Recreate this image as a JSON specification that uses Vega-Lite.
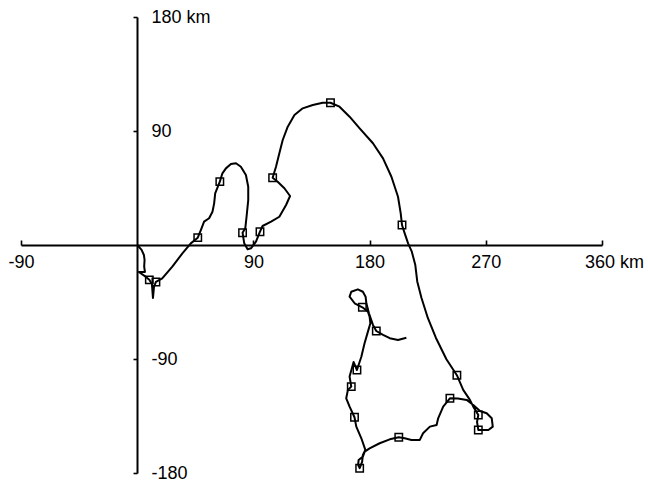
{
  "$schema": "https://vega.github.io/schema/vega-lite/v6.json",
  "width": 581,
  "height": 456,
  "autosize": {"type": "none"},
  "padding": {"left": 21, "top": 17, "right": 46, "bottom": 10},
  "background": "white",
  "config": {"view": {"stroke": null}},
  "data": {"values": [
    {"i":1,"x":0,"y":0,"m":0},{"i":2,"x":3.4,"y":-3.9,"m":0},{"i":3,"x":5.2,"y":-7.9,"m":0},{"i":4,"x":5.7,"y":-11.8,"m":0},
    {"i":5,"x":5.4,"y":-17.1,"m":0},{"i":6,"x":6.0,"y":-21.3,"m":0},{"i":7,"x":1.3,"y":-21.3,"m":0},{"i":8,"x":6.5,"y":-25.0,"m":0},
    {"i":9,"x":9.4,"y":-27.5,"m":1},{"i":10,"x":11.4,"y":-30.8,"m":0},{"i":11,"x":12.2,"y":-41.8,"m":0},{"i":12,"x":13.0,"y":-33.1,"m":0},
    {"i":13,"x":14.5,"y":-29.2,"m":1},{"i":14,"x":19.4,"y":-26.3,"m":0},{"i":15,"x":27.2,"y":-17.1,"m":0},{"i":16,"x":35.0,"y":-6.6,"m":0},
    {"i":17,"x":41.5,"y":1.3,"m":0},{"i":18,"x":46.9,"y":5.8,"m":1},{"i":19,"x":49.3,"y":11.8,"m":0},{"i":20,"x":51.8,"y":18.4,"m":0},
    {"i":21,"x":55.7,"y":21.1,"m":0},{"i":22,"x":58.3,"y":26.3,"m":0},{"i":23,"x":59.6,"y":32.9,"m":0},{"i":24,"x":60.4,"y":40.8,"m":0},
    {"i":25,"x":64.0,"y":50.0,"m":1},{"i":26,"x":66.0,"y":56.6,"m":0},{"i":27,"x":68.7,"y":60.5,"m":0},{"i":28,"x":72.6,"y":63.9,"m":0},
    {"i":29,"x":76.5,"y":64.5,"m":0},{"i":30,"x":80.3,"y":61.8,"m":0},{"i":31,"x":84.2,"y":55.3,"m":0},{"i":32,"x":86.0,"y":46.0,"m":0},
    {"i":33,"x":86.0,"y":35.5,"m":0},{"i":34,"x":84.7,"y":22.3,"m":0},{"i":35,"x":83.7,"y":13.2,"m":0},{"i":36,"x":81.6,"y":9.7,"m":1},
    {"i":37,"x":82.9,"y":1.3,"m":0},{"i":38,"x":85.5,"y":-3.4,"m":0},{"i":39,"x":88.1,"y":-2.6,"m":0},{"i":40,"x":92.0,"y":2.6,"m":0},
    {"i":41,"x":95.1,"y":10.5,"m":1},{"i":42,"x":97.1,"y":15.0,"m":0},{"i":43,"x":103.7,"y":18.4,"m":0},{"i":44,"x":110.1,"y":22.3,"m":0},
    {"i":45,"x":115.3,"y":31.6,"m":0},{"i":46,"x":118.4,"y":38.7,"m":0},{"i":47,"x":114.0,"y":44.8,"m":0},{"i":48,"x":108.8,"y":50.0,"m":0},
    {"i":49,"x":104.9,"y":53.1,"m":1},{"i":50,"x":107.5,"y":61.8,"m":0},{"i":51,"x":110.1,"y":72.4,"m":0},{"i":52,"x":112.7,"y":82.9,"m":0},
    {"i":53,"x":116.6,"y":93.4,"m":0},{"i":54,"x":121.8,"y":102.6,"m":0},{"i":55,"x":128.2,"y":107.9,"m":0},{"i":56,"x":136.0,"y":110.5,"m":0},
    {"i":57,"x":143.7,"y":112.3,"m":0},{"i":58,"x":149.7,"y":112.3,"m":1},{"i":59,"x":156.7,"y":109.2,"m":0},{"i":60,"x":164.5,"y":101.3,"m":0},
    {"i":61,"x":172.3,"y":92.1,"m":0},{"i":62,"x":182.6,"y":80.3,"m":0},{"i":63,"x":190.4,"y":68.4,"m":0},{"i":64,"x":196.9,"y":53.9,"m":0},
    {"i":65,"x":202.0,"y":38.1,"m":0},{"i":66,"x":204.1,"y":25.0,"m":0},{"i":67,"x":205.1,"y":15.8,"m":1},{"i":68,"x":207.2,"y":9.2,"m":0},
    {"i":69,"x":209.8,"y":1.3,"m":0},{"i":70,"x":212.7,"y":-5.3,"m":0},{"i":71,"x":215.4,"y":-15.8,"m":0},{"i":72,"x":216.9,"y":-28.8,"m":0},
    {"i":73,"x":220.2,"y":-41.8,"m":0},{"i":74,"x":225.1,"y":-57.6,"m":0},{"i":75,"x":231.3,"y":-73.2,"m":0},{"i":76,"x":239.5,"y":-90.2,"m":0},
    {"i":77,"x":247.6,"y":-102.8,"m":1},{"i":78,"x":252.5,"y":-114.4,"m":0},{"i":79,"x":257.7,"y":-122.3,"m":0},{"i":80,"x":260.3,"y":-127.6,"m":0},
    {"i":81,"x":264.2,"y":-134.2,"m":1},{"i":82,"x":263.2,"y":-139.7,"m":0},{"i":83,"x":264.2,"y":-146.0,"m":1},{"i":84,"x":272.0,"y":-146.0,"m":0},
    {"i":85,"x":275.4,"y":-143.4,"m":0},{"i":86,"x":274.6,"y":-136.8,"m":0},{"i":87,"x":270.7,"y":-132.8,"m":0},{"i":88,"x":265.5,"y":-131.0,"m":0},
    {"i":89,"x":260.3,"y":-126.3,"m":0},{"i":90,"x":255.2,"y":-122.3,"m":0},{"i":91,"x":248.4,"y":-121.2,"m":0},{"i":92,"x":242.2,"y":-121.0,"m":1},
    {"i":93,"x":237.0,"y":-127.6,"m":0},{"i":94,"x":233.1,"y":-136.8,"m":0},{"i":95,"x":231.9,"y":-142.1,"m":0},{"i":96,"x":226.7,"y":-143.4,"m":0},
    {"i":97,"x":221.4,"y":-148.6,"m":0},{"i":98,"x":218.9,"y":-153.9,"m":0},{"i":99,"x":212.4,"y":-153.9,"m":0},{"i":100,"x":207.2,"y":-152.6,"m":0},
    {"i":101,"x":202.6,"y":-151.8,"m":1},{"i":102,"x":195.6,"y":-153.4,"m":0},{"i":103,"x":187.8,"y":-156.5,"m":0},{"i":104,"x":180.0,"y":-160.5,"m":0},
    {"i":105,"x":176.2,"y":-163.1,"m":0},{"i":106,"x":174.8,"y":-167.1,"m":0},{"i":107,"x":171.5,"y":-169.7,"m":0},{"i":108,"x":171.1,"y":-173.6,"m":0},
    {"i":109,"x":172.3,"y":-176.2,"m":1},{"i":110,"x":174.2,"y":-171.3,"m":0},{"i":111,"x":174.8,"y":-165.7,"m":0},{"i":112,"x":176.7,"y":-161.8,"m":0},
    {"i":113,"x":173.6,"y":-152.6,"m":0},{"i":114,"x":169.7,"y":-143.4,"m":0},{"i":115,"x":168.3,"y":-136.0,"m":1},{"i":116,"x":164.5,"y":-127.6,"m":0},
    {"i":117,"x":161.9,"y":-121.0,"m":0},{"i":118,"x":163.2,"y":-114.4,"m":0},{"i":119,"x":165.8,"y":-111.8,"m":1},{"i":120,"x":164.5,"y":-103.9,"m":0},
    {"i":121,"x":166.6,"y":-96.1,"m":0},{"i":122,"x":167.6,"y":-92.3,"m":0},{"i":123,"x":170.2,"y":-98.7,"m":1},{"i":124,"x":173.6,"y":-88.2,"m":0},
    {"i":125,"x":176.1,"y":-77.6,"m":0},{"i":126,"x":178.7,"y":-68.4,"m":0},{"i":127,"x":180.6,"y":-61.8,"m":0},{"i":128,"x":180.0,"y":-56.6,"m":0},
    {"i":129,"x":178.7,"y":-52.6,"m":0},{"i":130,"x":174.4,"y":-49.2,"m":1},{"i":131,"x":168.4,"y":-46.0,"m":0},{"i":132,"x":164.5,"y":-40.8,"m":0},
    {"i":133,"x":165.8,"y":-36.9,"m":0},{"i":134,"x":170.9,"y":-35.0,"m":0},{"i":135,"x":174.8,"y":-36.9,"m":0},{"i":136,"x":176.9,"y":-40.8,"m":0},
    {"i":137,"x":177.5,"y":-46.0,"m":0},{"i":138,"x":179.5,"y":-53.9,"m":0},{"i":139,"x":182.6,"y":-63.1,"m":0},{"i":140,"x":185.2,"y":-67.9,"m":1},
    {"i":141,"x":190.4,"y":-71.0,"m":0},{"i":142,"x":195.6,"y":-73.6,"m":0},{"i":143,"x":202.0,"y":-75.0,"m":0},{"i":144,"x":208.5,"y":-73.2,"m":0}
  ]},
  "encoding": {
    "x": {"field": "x", "type": "quantitative",
      "scale": {"domain": [-90, 360], "nice": false, "zero": false},
      "axis": {"orient": "bottom", "offset": -228, "title": null, "grid": false,
        "values": [-90, 90, 180, 270, 360],
        "labelExpr": "datum.value == 360 ? '360 km' : '' + datum.value",
        "labelOffset": {"condition": {"test": "datum.value == 360", "value": 12}, "value": 0},
        "labelFont": "Liberation Sans", "labelFontSize": 18, "labelColor": "black",
        "labelPadding": 13, "labelFlush": false, "labelOverlap": false,
        "domainColor": "black", "domainWidth": 2, "tickColor": "black", "tickWidth": 1.6, "tickSize": -5}},
    "y": {"field": "y", "type": "quantitative",
      "scale": {"domain": [-180, 180], "nice": false, "zero": false},
      "axis": {"orient": "right", "offset": -465, "title": null, "grid": false,
        "values": [-180, -90, 90, 180],
        "labelExpr": "datum.value == 180 ? '180 km' : '' + datum.value",
        "labelFont": "Liberation Sans", "labelFontSize": 18, "labelColor": "black",
        "labelPadding": 18, "labelFlush": false, "labelOverlap": false, "labelBaseline": "middle",
        "domainColor": "black", "domainWidth": 2, "tickColor": "black", "tickWidth": 1.6, "tickSize": -4}}
  },
  "layer": [
    {"mark": {"type": "line", "color": "black", "strokeWidth": 2, "strokeJoin": "round"},
     "encoding": {"order": {"field": "i", "type": "quantitative"}}},
    {"transform": [{"filter": "datum.m == 1"}],
     "mark": {"type": "point", "shape": "square", "filled": false, "color": "black", "size": 55, "strokeWidth": 1.5, "opacity": 1}}
  ]
}
